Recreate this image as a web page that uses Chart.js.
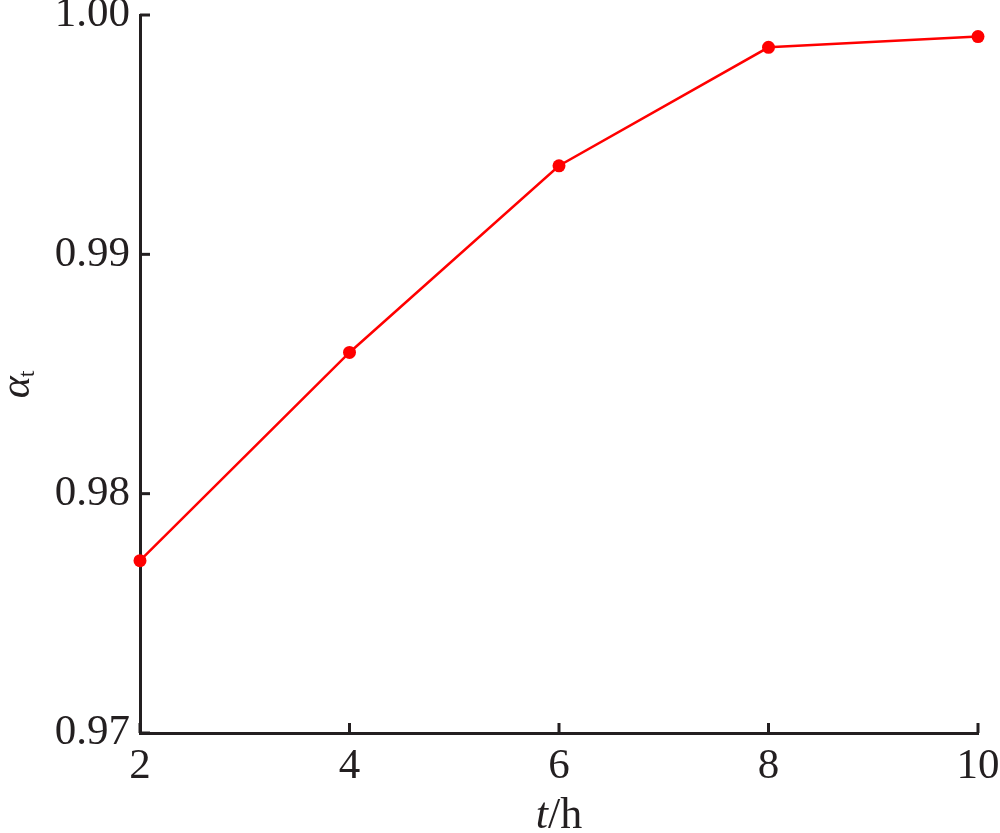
<!DOCTYPE html>
<html>
<head>
<meta charset="utf-8">
<script src="https://cdn.jsdelivr.net/npm/chart.js@4.4.0/dist/chart.umd.min.js"></script>
<style>
  html, body { margin: 0; padding: 0; background: #fff; }
  #wrap { width: 1000px; height: 833px; }
</style>
</head>
<body>
<div id="wrap"><canvas id="lineChart" width="1000" height="833"></canvas></div>
<script>
// data
const hours = [2, 4, 6, 8, 10];
const alphaT = [0.9772, 0.9859, 0.9937, 0.99865, 0.9991];
const xTicks = [2, 4, 6, 8, 10];
const yTicks = [0.97, 0.98, 0.99, 1.00];

const axisColor = '#231f20';
const serif = '"Liberation Serif", "Times New Roman", serif';

// inward tick marks + axis titles
const decoPlugin = {
    id: 'deco',
    afterDraw(chart) {
        const ctx = chart.ctx;
        const area = chart.chartArea;
        const xs = chart.scales.x;
        const ys = chart.scales.y;
        ctx.save();
        ctx.strokeStyle = axisColor;
        ctx.lineWidth = 3;
        xTicks.forEach(v => {
            const px = xs.getPixelForValue(v);
            ctx.beginPath();
            ctx.moveTo(px, area.bottom);
            ctx.lineTo(px, area.bottom - 10);
            ctx.stroke();
        });
        yTicks.forEach(v => {
            const py = ys.getPixelForValue(v);
            ctx.beginPath();
            ctx.moveTo(area.left, py);
            ctx.lineTo(area.left + 10, py);
            ctx.stroke();
        });

        ctx.fillStyle = axisColor;
        ctx.textBaseline = 'alphabetic';
        // x title: t/h
        const cx = (area.left + area.right) / 2;
        ctx.font = 'italic 44px ' + serif;
        const wT = ctx.measureText('t').width;
        ctx.font = '44px ' + serif;
        const wRest = ctx.measureText('/h').width;
        let sx = cx - (wT + wRest) / 2;
        ctx.font = 'italic 44px ' + serif;
        ctx.textAlign = 'left';
        ctx.fillText('t', sx, 828);
        ctx.font = '44px ' + serif;
        ctx.fillText('/h', sx + wT, 828);

        // y title: alpha_t
        ctx.translate(29, 384);
        ctx.rotate(-Math.PI / 2);
        ctx.font = 'italic 42px ' + serif;
        const wA = ctx.measureText('α').width;
        ctx.font = '24px ' + serif;
        const wS = ctx.measureText('t').width;
        const start = -(wA + wS) / 2;
        ctx.font = 'italic 42px ' + serif;
        ctx.fillText('α', start, 0);
        ctx.font = '24px ' + serif;
        ctx.fillText('t', start + wA - 1, 5);
        ctx.restore();
    }
};

document.addEventListener("DOMContentLoaded", function() {
    const ctx = document.getElementById('lineChart').getContext('2d');
    new Chart(ctx, {
        type: 'line',
        data: {
            datasets: [{
                data: hours.map((h, i) => ({ x: h, y: alphaT[i] })),
                borderColor: '#ff0000',
                backgroundColor: '#ff0000',
                borderWidth: 2.5,
                pointRadius: 6.5,
                pointBorderWidth: 0,
                tension: 0,
                clip: false
            }]
        },
        options: {
            responsive: false,
            animation: false,
            layout: { padding: { left: 0, right: 22, top: 15, bottom: 0 } },
            plugins: {
                legend: { display: false },
                tooltip: { enabled: false }
            },
            scales: {
                x: {
                    type: 'linear',
                    min: 2,
                    max: 10,
                    afterFit: s => {
                        s.height = 100;
                        s.paddingLeft = 0;
                        s.paddingRight = 0;
                    },
                    afterBuildTicks: s => { s.ticks = xTicks.map(v => ({ value: v })); },
                    grid: { display: false, drawTicks: false },
                    border: { display: true, color: axisColor, width: 3 },
                    ticks: {
                        color: axisColor,
                        padding: 8,
                        maxRotation: 0,
                        font: { family: serif, size: 43 }
                    }
                },
                y: {
                    min: 0.97,
                    max: 1.00,
                    afterFit: s => {
                        s.width = 140;
                        s.paddingTop = 0;
                        s.paddingBottom = 0;
                    },
                    afterBuildTicks: s => { s.ticks = yTicks.map(v => ({ value: v })); },
                    grid: { display: false, drawTicks: false },
                    border: { display: true, color: axisColor, width: 3 },
                    ticks: {
                        color: axisColor,
                        padding: 10,
                        font: { family: serif, size: 43 },
                        callback: v => v.toFixed(2)
                    }
                }
            }
        },
        plugins: [decoPlugin]
    });
});
</script>
</body>
</html>
